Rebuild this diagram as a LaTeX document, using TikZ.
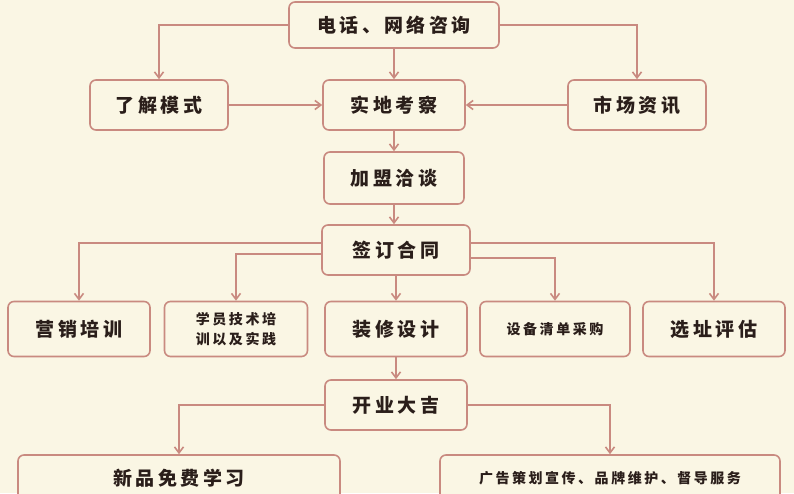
\documentclass[tikz,border=0pt]{standalone}
\usepackage{fontspec}
\setmainfont[LetterSpace=18]{Noto Sans CJK SC}
\usetikzlibrary{arrows.meta}
\definecolor{paper}{HTML}{FAF6E4}
\definecolor{rose}{HTML}{C98A80}
\definecolor{ink}{HTML}{2A1E1A}
\tikzset{
  stepbox/.style={draw=rose, line width=1.6pt, rounded corners=6pt, fill=paper,
    text=ink, font=\fontsize{19}{22}\selectfont\bfseries, align=center},
  smallbox/.style={stepbox, font=\fontsize{14}{20}\selectfont\bfseries},
  link/.style={draw=rose, line width=1.6pt, -{Straight Barb[length=6pt,width=9pt]}}
}
\begin{document}
\begin{tikzpicture}[x=1pt, y=-1pt]
            \fill[paper] (0,0) rectangle (794,493);
            \useasboundingbox (0,0) rectangle (794,493);
            % top rows
            \node[stepbox, minimum width=210pt, minimum height=46pt] (call) at (394,25) {电话、网络咨询};
            \node[stepbox, minimum width=138pt, minimum height=50pt] (mode) at (159,105) {了解模式};
            \node[stepbox, minimum width=142pt, minimum height=50pt] (visit) at (394,105) {实地考察};
            \node[stepbox, minimum width=138pt, minimum height=50pt] (market) at (637,105) {市场资讯};
            \node[stepbox, minimum width=140pt, minimum height=52pt] (talk) at (394,178) {加盟洽谈};
            \node[stepbox, minimum width=148pt, minimum height=50pt] (sign) at (396,250) {签订合同};
            % training row
            \node[stepbox, minimum width=142pt, minimum height=55pt] (sales) at (79,329) {营销培训};
            \node[smallbox, minimum width=143pt, minimum height=55pt] (trainee) at (236,329) {学员技术培\\训以及实践};
            \node[stepbox, minimum width=142pt, minimum height=55pt] (decor) at (396,329) {装修设计};
            \node[smallbox, minimum width=150pt, minimum height=55pt] (equip) at (555,329) {设备清单采购};
            \node[stepbox, minimum width=142pt, minimum height=55pt] (site) at (714,329) {选址评估};
            \node[stepbox, minimum width=142pt, minimum height=50pt] (open) at (396,405) {开业大吉};
            % bottom row
            \node[stepbox, minimum width=322pt, minimum height=46pt] (learn) at (179,478) {新品免费学习};
            \node[smallbox, minimum width=340pt, minimum height=46pt] (ads) at (610,478) {广告策划宣传、品牌维护、督导服务};
            % connectors
            \draw[link] (call.west) -| (mode.north);
            \draw[link] (call.east) -| (market.north);
            \draw[link] (call) -- (visit);
            \draw[link] (mode) -- (visit);
            \draw[link] (market) -- (visit);
            \draw[link] (visit) -- (talk);
            \draw[link] (talk.south) -- (talk.south |- sign.north);
            \draw[link] ([yshift=7pt]sign.west) -| (sales.north);
            \draw[link] ([yshift=-4pt]sign.west) -| (trainee.north);
            \draw[link] ([yshift=7pt]sign.east) -| (site.north);
            \draw[link] ([yshift=-8pt]sign.east) -| (equip.north);
            \draw[link] (sign) -- (decor);
            \draw[link] (decor) -- (open);
            \draw[link] (open.west) -| (learn.north);
            \draw[link] (open.east) -| (ads.north);
\end{tikzpicture}
\end{document}
